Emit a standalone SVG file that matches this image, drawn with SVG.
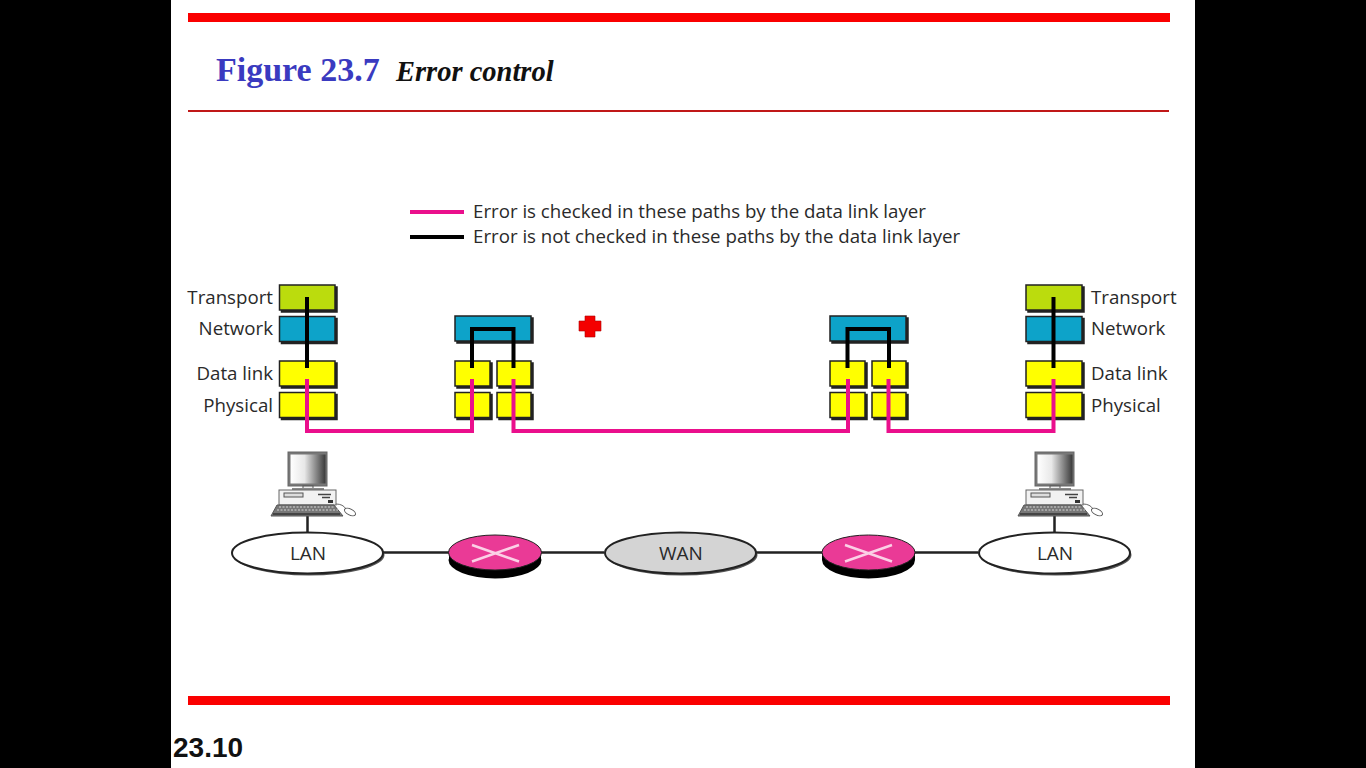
<svg xmlns="http://www.w3.org/2000/svg" xmlns:xlink="http://www.w3.org/1999/xlink" width="1366" height="768" viewBox="0 0 1366 768">
<style>
.lbl{font-family:"Open Sans","Noto Sans",sans-serif;font-size:18.700px;fill:#2a2a2a}
.net{font-family:"Open Sans","Noto Sans",sans-serif;font-size:19px;fill:#2a2a2a;text-anchor:middle}
.box{stroke:#222;stroke-width:1.500;filter:url(#sh)}
.y{fill:#ffff00}.b{fill:#0ba3c9}.g{fill:#bbdc10}
.pk{fill:none;stroke:#ea0f8c;stroke-width:4}
.bk{fill:none;stroke:#000;stroke-width:4}
.wire{fill:none;stroke:#222;stroke-width:2.500}
</style>
<defs>
<filter id="sh" x="-10%" y="-10%" width="125%" height="130%"><feDropShadow dx="2" dy="2" stdDeviation="0.500" flood-color="#222"/></filter>
<linearGradient id="scr" x1="0" x2="1"><stop offset="0" stop-color="#fff"/><stop offset="0.4" stop-color="#e8e8e8"/><stop offset="1" stop-color="#3a3a3a"/></linearGradient>
<g id="pc">
<rect x="288" y="452" width="39" height="34" fill="#777" stroke="#666"/>
<rect x="290.500" y="454.500" width="35" height="29" fill="url(#scr)"/>
<rect x="303" y="486" width="10" height="4" fill="#eee" stroke="#555"/>
<rect x="292" y="488" width="32" height="2" fill="#888"/>
<rect x="279" y="490" width="57" height="15" fill="#f2f2f2" stroke="#666"/>
<rect x="284" y="493" width="19" height="4" fill="#ddd" stroke="#555"/>
<path d="M318 494.500H331M322 497.500H330" stroke="#444" stroke-width="1.500"/>
<rect x="328" y="500" width="5" height="3" fill="#333"/>
<path d="M277 505H334L343 516H271Z" fill="#777" stroke="#555"/>
<path d="M273 514H340" stroke="#444" stroke-width="2"/>
<path d="M279 507H335M277 510H338" stroke="#eee" stroke-width="0.800" stroke-dasharray="2 1.500"/>
<path d="M336 504Q343 504 346 509" fill="none" stroke="#666"/>
<ellipse cx="350" cy="512" rx="6" ry="3" transform="rotate(28 350 512)" fill="#fff" stroke="#555"/>
</g>
</defs>
<rect width="1366" height="768" fill="#000"/>
<rect x="171" width="1024" height="768" fill="#fff"/>
<rect x="188" y="13" width="982" height="9" fill="#fa0000"/>
<rect x="188" y="110" width="981" height="2" fill="#c01818"/>
<rect x="188" y="696" width="982" height="9" fill="#fa0000"/>
<text x="216" y="81" font-family="Liberation Serif,serif" font-weight="bold" font-size="34" fill="#3a3ac0">Figure 23.7</text>
<text x="396" y="81" font-family="Liberation Serif,serif" font-weight="bold" font-style="italic" font-size="28.500" fill="#111">Error control</text>
<text x="173" y="757" font-family="Liberation Sans,sans-serif" font-weight="bold" font-size="28" fill="#111">23.10</text>
<g id="legend">
<path d="M410 212H464" stroke="#ea0f8c" stroke-width="4"/>
<path d="M410 237H464" stroke="#000" stroke-width="4"/>
<text x="473" y="218" class="lbl">Error is checked in these paths by the data link layer</text>
<text x="473" y="243" class="lbl">Error is not checked in these paths by the data link layer</text>
</g>
<g id="stack-left">
<rect class="box g" x="279.500" y="285" width="55.500" height="25"/>
<rect class="box b" x="279.500" y="316.500" width="55.500" height="25"/>
<rect class="box y" x="279.500" y="361" width="55.500" height="25"/>
<rect class="box y" x="279.500" y="392.500" width="55.500" height="25"/>
<text class="lbl" x="273" y="304" text-anchor="end">Transport</text>
<text class="lbl" x="273" y="335" text-anchor="end">Network</text>
<text class="lbl" x="273" y="380" text-anchor="end">Data link</text>
<text class="lbl" x="273" y="412" text-anchor="end">Physical</text>
</g>
<g id="router-stack-left">
<rect class="box b" x="455" y="316" width="76" height="25"/>
<rect class="box y" x="455" y="361" width="35" height="25"/>
<rect class="box y" x="497" y="361" width="34" height="25"/>
<rect class="box y" x="455" y="392.500" width="35" height="25"/>
<rect class="box y" x="497" y="392.500" width="34" height="25"/>
</g>
<g id="router-stack-right">
<rect class="box b" x="830" y="316" width="76" height="25"/>
<rect class="box y" x="830" y="361" width="35" height="25"/>
<rect class="box y" x="872" y="361" width="34" height="25"/>
<rect class="box y" x="830" y="392.500" width="35" height="25"/>
<rect class="box y" x="872" y="392.500" width="34" height="25"/>
</g>
<g id="stack-right">
<rect class="box g" x="1026" y="285" width="56" height="25"/>
<rect class="box b" x="1026" y="316.500" width="56" height="25"/>
<rect class="box y" x="1026" y="361" width="56" height="25"/>
<rect class="box y" x="1026" y="392.500" width="56" height="25"/>
<text class="lbl" x="1091" y="304">Transport</text>
<text class="lbl" x="1091" y="335">Network</text>
<text class="lbl" x="1091" y="380">Data link</text>
<text class="lbl" x="1091" y="412">Physical</text>
</g>
<g id="marker-cross"><path d="M585 316H595V321H601V331H595V337H585V331H579V321H585Z" fill="#f40000" stroke="#b00000" stroke-width="0.600"/></g>
<g id="connectors">
<path class="bk" d="M307 297V368"/>
<path class="bk" d="M472 368V329H513.500V368"/>
<path class="bk" d="M847.500 368V329H889V368"/>
<path class="bk" d="M1053.500 297V368"/>
<path class="pk" d="M307 379V431H472V379"/>
<path class="pk" d="M513.500 379V431H848V379"/>
<path class="pk" d="M888.500 379V431H1053.500V379"/>
<path class="wire" d="M307.500 516V533M383 552.500H449M541 552.500H604M756 552.500H822M915 552.500H978M1054.500 516V533"/>
</g>
<g id="pc-left"><use href="#pc"/></g>
<g id="pc-right"><use href="#pc" x="747"/></g>
<g id="lan-left">
<ellipse cx="309" cy="555" rx="75.500" ry="20.500" fill="#555"/>
<ellipse cx="307.500" cy="553" rx="75.500" ry="20.500" fill="#fff" stroke="#222" stroke-width="2"/>
<text class="net" x="308" y="560">LAN</text>
</g>
<g id="router-a">
<ellipse cx="495" cy="560" rx="46.500" ry="18.500" fill="#000"/>
<path d="M449 553V560H541V553Z" fill="#000"/>
<ellipse cx="495" cy="552.500" rx="46.500" ry="17.500" fill="#ea3a96" stroke="#222"/>
<path d="M472 545L519 561.500M519 545L472 561.500" stroke="#fbd0e6" stroke-width="2.500"/>
</g>
<g id="wan">
<ellipse cx="682" cy="555" rx="75.500" ry="20.500" fill="#555"/>
<ellipse cx="680.500" cy="553" rx="75.500" ry="20.500" fill="#d4d4d4" stroke="#222" stroke-width="2"/>
<text class="net" x="681" y="560">WAN</text>
</g>
<g id="router-b">
<ellipse cx="868.500" cy="560" rx="46.500" ry="18.500" fill="#000"/>
<path d="M822 553V560H915V553Z" fill="#000"/>
<ellipse cx="868.500" cy="552.500" rx="46.500" ry="17.500" fill="#ea3a96" stroke="#222"/>
<path d="M845 545L892 561.500M892 545L845 561.500" stroke="#fbd0e6" stroke-width="2.500"/>
</g>
<g id="lan-right">
<ellipse cx="1056" cy="555" rx="75.500" ry="20.500" fill="#555"/>
<ellipse cx="1054.500" cy="553" rx="75.500" ry="20.500" fill="#fff" stroke="#222" stroke-width="2"/>
<text class="net" x="1055" y="560">LAN</text>
</g>
</svg>
